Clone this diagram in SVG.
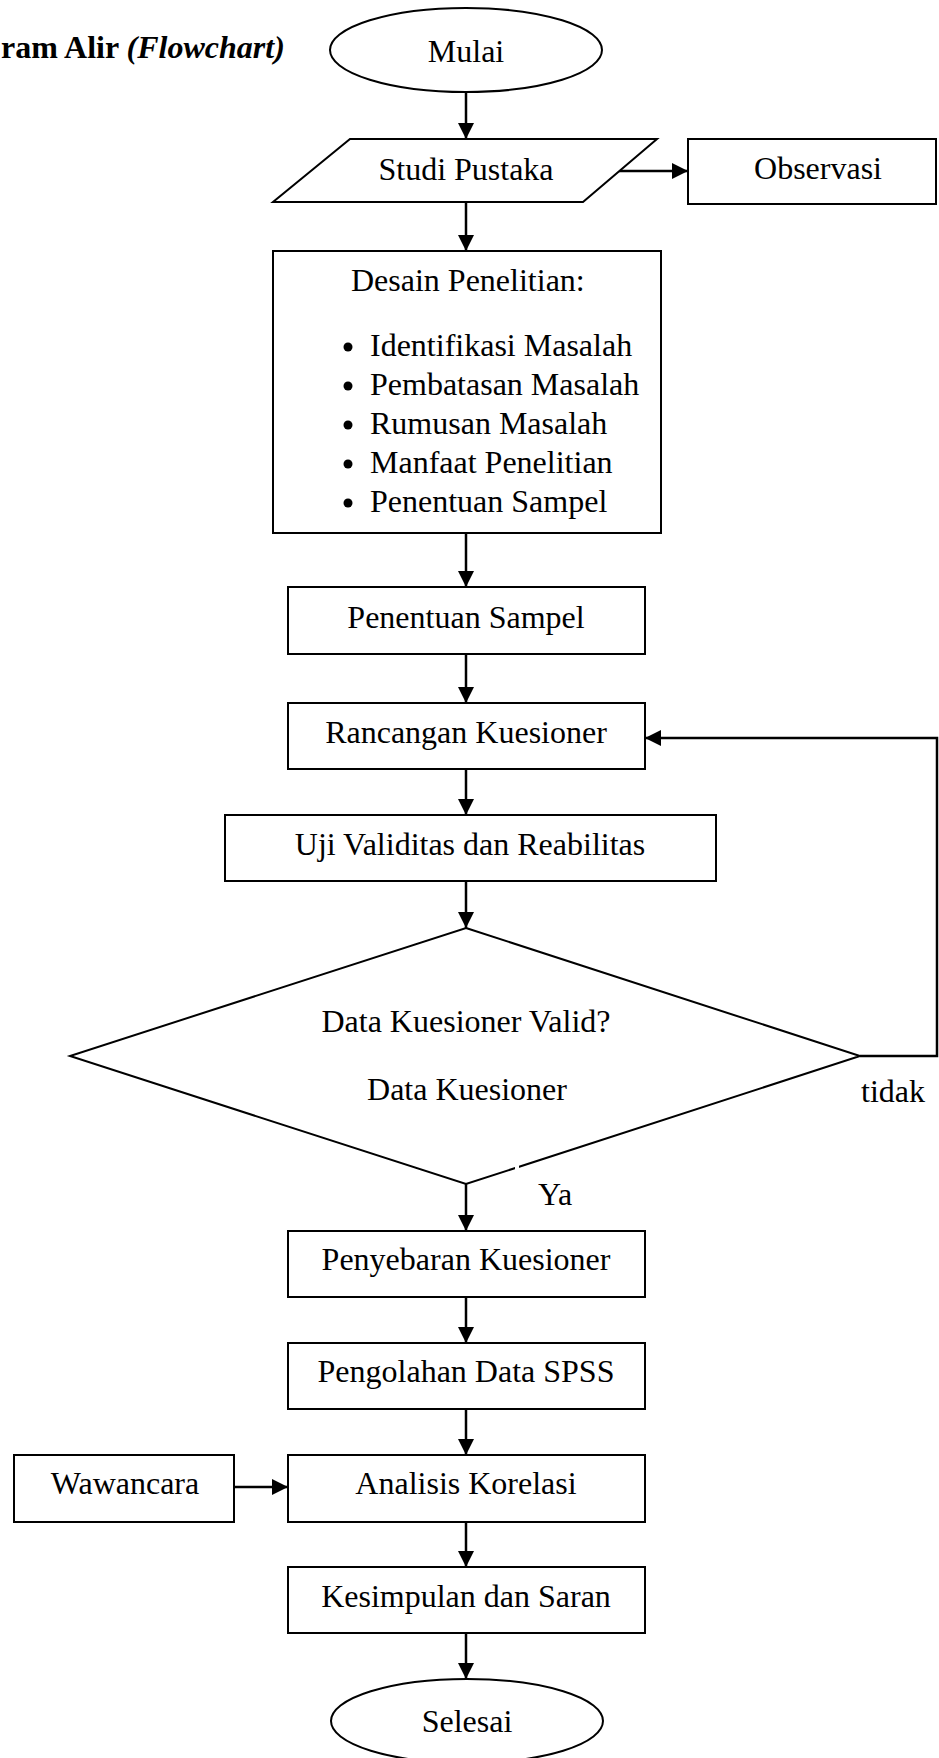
<svg xmlns="http://www.w3.org/2000/svg" width="939" height="1758" viewBox="0 0 939 1758">
  <style>
    text { font-family: "Liberation Serif", "Times New Roman", serif; font-size: 32px; fill: #000; }
    .c { text-anchor: middle; }
    .shape { fill: #fff; stroke: #000; stroke-width: 2; }
    .conn { fill: none; stroke: #000; stroke-width: 2.5; }
  </style>
  <defs>
    <marker id="arrow" markerUnits="userSpaceOnUse" markerWidth="16" markerHeight="16" refX="16" refY="8" orient="auto">
      <path d="M0,0 L16,8 L0,16 z" fill="#000"/>
    </marker>
  </defs>
  <rect width="939" height="1758" fill="#fff"/>

  <g id="title">
    <text x="1" y="58" font-weight="bold">ram Alir <tspan font-style="italic">(Flowchart)</tspan></text>
  </g>

  <g id="connectors">
    <line class="conn" x1="466" y1="92" x2="466" y2="139" marker-end="url(#arrow)"/>
    <line class="conn" x1="466" y1="202" x2="466" y2="251" marker-end="url(#arrow)"/>
    <line class="conn" x1="619" y1="171" x2="688" y2="171" marker-end="url(#arrow)"/>
    <line class="conn" x1="466" y1="533" x2="466" y2="587" marker-end="url(#arrow)"/>
    <line class="conn" x1="466" y1="654" x2="466" y2="703" marker-end="url(#arrow)"/>
    <line class="conn" x1="466" y1="769" x2="466" y2="815" marker-end="url(#arrow)"/>
    <line class="conn" x1="466" y1="881" x2="466" y2="928" marker-end="url(#arrow)"/>
    <polyline class="conn" points="860,1056 937,1056 937,738 645,738" marker-end="url(#arrow)"/>
    <line class="conn" x1="466" y1="1184" x2="466" y2="1231" marker-end="url(#arrow)"/>
    <line class="conn" x1="466" y1="1297" x2="466" y2="1343" marker-end="url(#arrow)"/>
    <line class="conn" x1="466" y1="1409" x2="466" y2="1455" marker-end="url(#arrow)"/>
    <line class="conn" x1="234" y1="1487" x2="288" y2="1487" marker-end="url(#arrow)"/>
    <line class="conn" x1="466" y1="1522" x2="466" y2="1567" marker-end="url(#arrow)"/>
    <line class="conn" x1="466" y1="1633" x2="466" y2="1679" marker-end="url(#arrow)"/>
  </g>

  <g id="mulai">
    <ellipse class="shape" cx="466" cy="50" rx="136" ry="42"/>
    <text class="c" x="466" y="62">Mulai</text>
  </g>

  <g id="studi-pustaka">
    <polygon class="shape" points="350,139 657,139 583,202 273,202"/>
    <text class="c" x="466" y="180">Studi Pustaka</text>
  </g>

  <g id="observasi">
    <rect class="shape" x="688" y="139" width="248" height="65"/>
    <text class="c" x="818" y="179">Observasi</text>
  </g>

  <g id="desain-penelitian">
    <rect class="shape" x="273" y="251" width="388" height="282"/>
    <text x="351" y="291">Desain Penelitian:</text>
    <circle cx="348" cy="347" r="4.5"/>
    <circle cx="348" cy="386" r="4.5"/>
    <circle cx="348" cy="425" r="4.5"/>
    <circle cx="348" cy="464" r="4.5"/>
    <circle cx="348" cy="503" r="4.5"/>
    <text x="370" y="356">Identifikasi Masalah</text>
    <text x="370" y="395">Pembatasan Masalah</text>
    <text x="370" y="434">Rumusan Masalah</text>
    <text x="370" y="473">Manfaat Penelitian</text>
    <text x="370" y="512">Penentuan Sampel</text>
  </g>

  <g id="penentuan-sampel">
    <rect class="shape" x="288" y="587" width="357" height="67"/>
    <text class="c" x="466" y="628">Penentuan Sampel</text>
  </g>

  <g id="rancangan-kuesioner">
    <rect class="shape" x="288" y="703" width="357" height="66"/>
    <text class="c" x="466" y="743">Rancangan Kuesioner</text>
  </g>

  <g id="uji-validitas">
    <rect class="shape" x="225" y="815" width="491" height="66"/>
    <text class="c" x="470" y="855">Uji Validitas dan Reabilitas</text>
  </g>

  <g id="keputusan">
    <polygon class="shape" points="466,928 860,1056 466,1184 70,1056"/>
    <text class="c" x="466" y="1032">Data Kuesioner Valid?</text>
    <text class="c" x="467" y="1100">Data Kuesioner</text>
    <rect x="515" y="1159" width="4" height="12" fill="#fff"/>
  </g>

  <g id="label-ya">
    <text x="538" y="1205">Ya</text>
  </g>
  <g id="label-tidak">
    <text x="861" y="1102">tidak</text>
  </g>

  <g id="penyebaran-kuesioner">
    <rect class="shape" x="288" y="1231" width="357" height="66"/>
    <text class="c" x="466" y="1270">Penyebaran Kuesioner</text>
  </g>

  <g id="pengolahan-data">
    <rect class="shape" x="288" y="1343" width="357" height="66"/>
    <text class="c" x="466" y="1382">Pengolahan Data SPSS</text>
  </g>

  <g id="wawancara">
    <rect class="shape" x="14" y="1455" width="220" height="67"/>
    <text class="c" x="125" y="1494">Wawancara</text>
  </g>

  <g id="analisis-korelasi">
    <rect class="shape" x="288" y="1455" width="357" height="67"/>
    <text class="c" x="466" y="1494">Analisis Korelasi</text>
  </g>

  <g id="kesimpulan">
    <rect class="shape" x="288" y="1567" width="357" height="66"/>
    <text class="c" x="466" y="1607">Kesimpulan dan Saran</text>
  </g>

  <g id="selesai">
    <ellipse class="shape" cx="467" cy="1721" rx="136" ry="42"/>
    <text class="c" x="467" y="1732">Selesai</text>
  </g>
</svg>
